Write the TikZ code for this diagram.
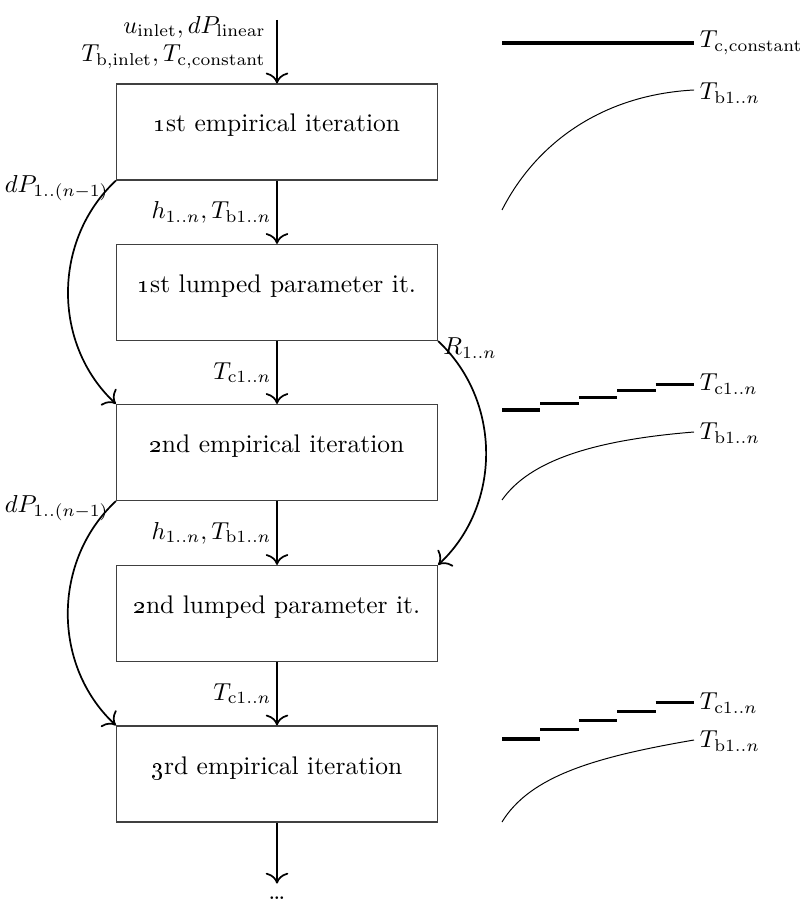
\documentclass[tikz,border=0pt]{standalone}
\usetikzlibrary{arrows.meta}
\begin{document}
\begin{tikzpicture}[x=0.408pt,y=-0.408pt,
  every node/.style={font=\fontsize{10.4}{12.5}\selectfont},
  stage/.style={draw=black!75, line width=0.45pt, minimum width=131pt,
    minimum height=39.2pt, text height=1.6ex, text depth=1.6ex, inner sep=0pt},
  flow/.style={-{To[scale=1.4]}, line width=0.7pt},
  level/.style={line width=1.3pt},
  profile/.style={line width=0.4pt},
  tag/.style={anchor=west, inner sep=1pt},
  lbl/.style={inner sep=2pt}]
\useasboundingbox (0,0) rectangle (807,905);

% iteration stages
\node[stage] (e1) at (277,132)   {\oldstylenums{1}st empirical iteration};
\node[stage] (l1) at (277,292.5) {\oldstylenums{1}st lumped parameter it.};
\node[stage] (e2) at (277,452.5) {\oldstylenums{2}nd empirical iteration};
\node[stage] (l2) at (277,613.5) {\oldstylenums{2}nd lumped parameter it.};
\node[stage] (e3) at (277,774)   {\oldstylenums{3}rd empirical iteration};

% inlet conditions
\coordinate (inlet) at (277,20);
\node[lbl, anchor=east] (inA) at (271,27) {$u_{\mathrm{inlet}}, dP_{\mathrm{linear}}$};
\node[lbl, anchor=east] (inB) at (271,57) {$T_{\mathrm{b,inlet}}, T_{\mathrm{c,constant}}$};
\draw[flow] (inlet) -- (e1);

% main chain
\draw[flow] (e1) -- (l1) node[midway, left, lbl] {$h_{1..n}, T_{\mathrm{b}1..n}$};
\draw[flow] (l1) -- (e2) node[midway, left, lbl] {$T_{\mathrm{c}1..n}$};
\draw[flow] (e2) -- (l2) node[midway, left, lbl] {$h_{1..n}, T_{\mathrm{b}1..n}$};
\draw[flow] (l2) -- (e3) node[midway, left, lbl] {$T_{\mathrm{c}1..n}$};
\node[inner sep=5pt, anchor=base] (more) at (277,899) {\ldots};
\draw[flow] (e3) -- (more);

% pressure drop and resistance feedback
\draw[flow] (e1.south west) to[bend right=47] (e2.north west);
\node[lbl, anchor=east] (dp1) at (114,188) {$dP_{1..(n-1)}$};
\draw[flow] (e2.south west) to[bend right=47] (e3.north west);
\node[lbl, anchor=east] (dp2) at (114,508) {$dP_{1..(n-1)}$};
\draw[flow] (l1.south east) to[bend left=47] (l2.north east);
\node[lbl, anchor=west] (r1) at (438,348) {$R_{1..n}$};

% temperature profiles, first stage
\draw[level] (502,43) -- (694,43);
\node[tag] (tc0) at (697,43) {$T_{\mathrm{c,constant}}$};
\draw[profile] (502,210) .. controls (535,145) and (600,95) .. (694,90);
\node[tag] (tb1) at (697,93) {$T_{\mathrm{b}1..n}$};

% second stage
\foreach \i in {0,...,4}
  \draw[level] ({502+38.4*\i},{410-6.4*\i}) -- ({502+38.4*(\i+1)},{410-6.4*\i});
\node[tag] (tc1) at (697,384) {$T_{\mathrm{c}1..n}$};
\draw[profile] (502,500) .. controls (530,460) and (595,440) .. (694,432);
\node[tag] (tb2) at (697,433) {$T_{\mathrm{b}1..n}$};

% third stage
\foreach \i in {0,...,4}
  \draw[level] ({502+38.4*\i},{739-9.2*\i}) -- ({502+38.4*(\i+1)},{739-9.2*\i});
\node[tag] (tc2) at (697,703) {$T_{\mathrm{c}1..n}$};
\draw[profile] (502,822) .. controls (530,776) and (595,757) .. (694,740);
\node[tag] (tb3) at (697,741) {$T_{\mathrm{b}1..n}$};
\end{tikzpicture}
\end{document}
